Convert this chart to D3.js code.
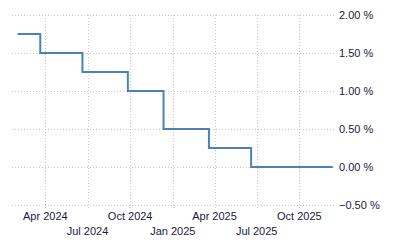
<!DOCTYPE html>
<html>
<head>
<meta charset="utf-8">
<script src="https://cdn.jsdelivr.net/npm/d3@7"></script>
<style>
  body { margin: 0; background: #fff; }
  svg text { font-family: "Liberation Sans", Arial, sans-serif; font-size: 11px; fill: #1a1a3a; }
</style>
</head>
<body>
<div id="chart"></div>
<script>
// Policy rate steps (date of change, new level in %)
const changeDates = ["2024-02-01", "2024-03-21", "2024-06-20", "2024-09-26", "2024-12-12", "2025-03-20", "2025-06-19", "2025-12-12"];
const rateValues = [1.75, 1.5, 1.25, 1.0, 0.5, 0.25, 0.0, 0.0];
const yTicks = [-0.5, 0, 0.5, 1.0, 1.5, 2.0];

const parse = d3.timeParse("%Y-%m-%d");
const data = changeDates.map((d, i) => ({ date: parse(d), value: rateValues[i] }));

const width = 400, height = 250;
const plotLeft = 12, plotRight = 335, plotTop = 15, plotBottom = 205;

const svg = d3.select("#chart")
    .append("svg")
    .attr("width", width)
    .attr("height", height);

const x = d3.scaleTime()
    .domain([parse("2024-01-20"), parse("2025-12-17")])
    .range([plotLeft, plotRight]);

const y = d3.scaleLinear()
    .domain([-0.5, 2.0])
    .range([plotBottom, plotTop]);

const xTicks = x.ticks(d3.timeMonth.every(3));

// horizontal grid lines
svg.append("g")
    .selectAll("line")
    .data(yTicks)
    .enter()
    .append("line")
    .attr("x1", plotLeft)
    .attr("x2", plotRight)
    .attr("y1", d => Math.round(y(d)) + 0.5)
    .attr("y2", d => Math.round(y(d)) + 0.5)
    .attr("stroke", "#c8c8c8")
    .attr("stroke-dasharray", "1,2");

// vertical grid lines
svg.append("g")
    .selectAll("line")
    .data(xTicks)
    .enter()
    .append("line")
    .attr("x1", d => Math.round(x(d)) + 0.5)
    .attr("x2", d => Math.round(x(d)) + 0.5)
    .attr("y1", plotTop)
    .attr("y2", plotBottom + 4)
    .attr("stroke", "#c8c8c8")
    .attr("stroke-dasharray", "1,2");

// y labels on the right
svg.append("g")
    .selectAll("text")
    .data(yTicks)
    .enter()
    .append("text")
    .attr("x", 339)
    .attr("y", d => y(d) + 4)
    .text(d => d3.format(".2f")(d) + " %");

// x labels, alternating rows
const fmt = d3.timeFormat("%b %Y");
svg.append("g")
    .selectAll("text")
    .data(xTicks)
    .enter()
    .append("text")
    .attr("x", d => x(d))
    .attr("y", (d, i) => i % 2 === 0 ? 220 : 235)
    .attr("text-anchor", "middle")
    .text(d => fmt(d));

// step line
const line = d3.line()
    .x(d => x(d.date))
    .y(d => y(d.value))
    .curve(d3.curveStepAfter);

svg.append("path")
    .datum(data)
    .attr("d", line)
    .attr("fill", "none")
    .attr("stroke", "#4d80b9")
    .attr("stroke-width", 2);
</script>
</body>
</html>
